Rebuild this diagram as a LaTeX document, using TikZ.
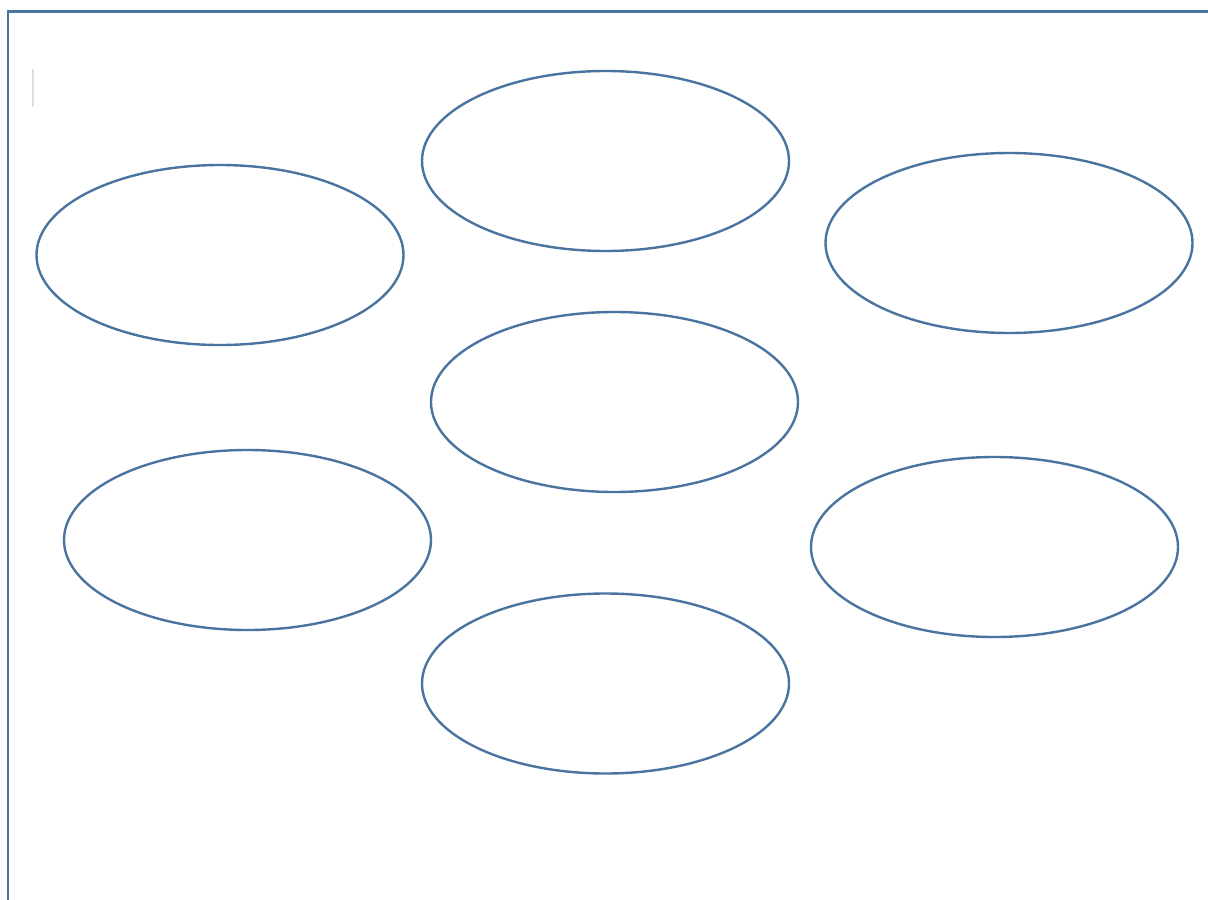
\documentclass[tikz,border=0pt]{standalone}
\usetikzlibrary{shapes.geometric}
\begin{document}
\begin{tikzpicture}[x=0.5pt,y=-0.5pt,
  oval/.style={ellipse,draw=ovalblue,line width=1.2pt,minimum width=367pt*0.5,minimum height=180pt*0.5,inner sep=0pt},
  frame/.style={draw=ovalblue,line width=1.4pt}]
\definecolor{ovalblue}{HTML}{4A74A0}
\useasboundingbox (0,0) rectangle (1208,899);
\fill[white] (0,0) rectangle (1208,899);
\coordinate (fbl) at (8,905);
\coordinate (ftl) at (8,11.5);
\coordinate (ftr) at (1215,11.5);
\draw[frame] (fbl) -- (ftl) -- (ftr);
\coordinate (ca) at (33,69);
\coordinate (cb) at (33,107);
\draw[black!12,line width=0.6pt] (ca) -- (cb);
\node[oval] (top) at (605.5,161) {};
\node[oval] (left) at (220,255) {};
\node[oval] (right) at (1009,243) {};
\node[oval] (mid) at (614.5,402) {};
\node[oval] (lowleft) at (247.5,540) {};
\node[oval] (lowright) at (994.5,547) {};
\node[oval] (bottom) at (605.5,683.5) {};
\end{tikzpicture}
\end{document}
